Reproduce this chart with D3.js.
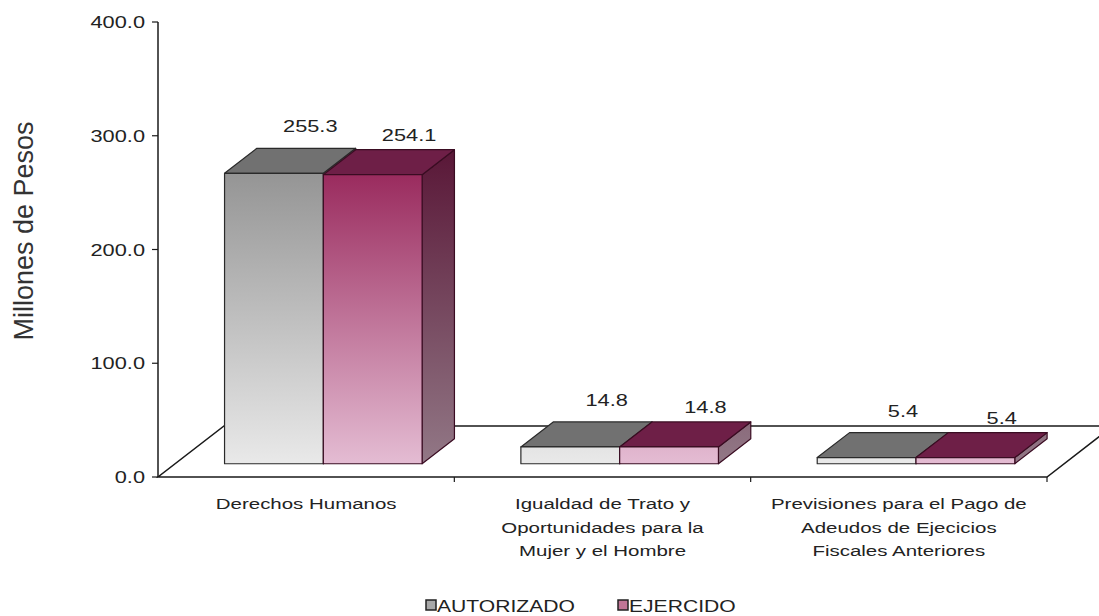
<!DOCTYPE html>
<html>
<head>
<meta charset="utf-8">
<script src="https://cdn.jsdelivr.net/npm/d3@7"></script>
<style>
body { margin: 0; background: #fff; }
text { font-family: Arial, "Liberation Sans", sans-serif; fill: #222; }
</style>
</head>
<body>
<svg id="chart" width="1099" height="616"></svg>
<script>
// data
var categories = [
    ["Derechos Humanos"],
    ["Igualdad de Trato y", "Oportunidades para la", "Mujer y el Hombre"],
    ["Previsiones para el Pago de", "Adeudos de Ejecicios", "Fiscales Anteriores"]
];
var seriesNames = ["AUTORIZADO", "EJERCIDO"];
var autorizado = [255.3, 14.8, 5.4];
var ejercido = [254.1, 14.8, 5.4];
var yTicks = [0, 100, 200, 300, 400];

var svg = d3.select("#chart");
var stretch = 1.32;

var xScale = d3.scaleBand()
    .domain(d3.range(categories.length))
    .range([158, 1047]);

var sub = d3.scaleBand()
    .domain(seriesNames)
    .range([0, xScale.bandwidth()])
    .paddingInner(0)
    .paddingOuter(0.5);

var yScale = d3.scaleLinear()
    .domain([0, 400])
    .range([477, 22]);

// depth of the floor (oblique projection)
var depth = {dx: 66, dy: -51};
var zFront = 0.26, zBack = 0.75;

var proj = function(x, v, z){
    return [x + z * depth.dx, yScale(v) + z * depth.dy];
}
var poly = function(pts){
    return pts.map(function(p){ return p.join(","); }).join(" ");
}

// gradients
var defs = svg.append("defs");
var addGrad = function(id, y1, y2, c1, c2){
    var g = defs.append("linearGradient")
        .attr("id", id)
        .attr("gradientUnits", "userSpaceOnUse")
        .attr("x1", 0).attr("x2", 0)
        .attr("y1", y1).attr("y2", y2);
    g.append("stop").attr("offset", 0).attr("stop-color", c1);
    g.append("stop").attr("offset", 1).attr("stop-color", c2);
}
var gy0 = yScale(0) + zFront * depth.dy;
var gy1 = yScale(255) + zFront * depth.dy;
addGrad("gFront0", gy0, gy1, "#e9e9e9", "#959595");
addGrad("gFront1", gy0, gy1, "#e4bcd3", "#9a2b5e");
addGrad("gSide1", gy0, gy1 - 20, "#927886", "#5a1838");

var styles = [
    {front: "url(#gFront0)", top: "#717171", side: "#7a7a7a", stroke: "#2a2a2a", key: "#a8a8a8"},
    {front: "url(#gFront1)", top: "#6e1f47", side: "url(#gSide1)", stroke: "#3a0c22", key: "#c07596"}
];

// floor
var floorPts = [
    proj(158, 0, 0), proj(1047, 0, 0), proj(1047, 0, 1), proj(158, 0, 1)
];
svg.append("polygon")
    .attr("points", poly(floorPts))
    .attr("fill", "#fff")
    .attr("stroke", "#1a1a1a")
    .attr("stroke-width", 1.5);

// y axis
svg.append("line")
    .attr("x1", 158).attr("x2", 158)
    .attr("y1", yScale(400)).attr("y2", yScale(0))
    .attr("stroke", "#1a1a1a").attr("stroke-width", 1.5);

svg.selectAll(".ytick")
    .data(yTicks)
    .enter()
    .append("line")
    .attr("x1", 152).attr("x2", 158)
    .attr("y1", function(d){ return yScale(d); })
    .attr("y2", function(d){ return yScale(d); })
    .attr("stroke", "#1a1a1a").attr("stroke-width", 1.2);

svg.selectAll(".ylab")
    .data(yTicks)
    .enter()
    .append("text")
    .attr("transform", function(d){
        return "translate(145," + (yScale(d) + 6) + ") scale(" + stretch + ",1)";
    })
    .attr("text-anchor", "end")
    .attr("font-size", 16.5)
    .text(function(d){ return d3.format(".1f")(d); });

svg.append("text")
    .attr("transform", "translate(33,231) rotate(-90)")
    .attr("text-anchor", "middle")
    .attr("font-size", 27)
    .style("fill", "#333")
    .text("Millones de Pesos");

// x ticks at band boundaries
var bounds = xScale.domain().slice(1).map(function(i){ return xScale(i); }).concat([1047]);
svg.selectAll(".xtick")
    .data(bounds)
    .enter()
    .append("line")
    .attr("x1", function(d){ return d; })
    .attr("x2", function(d){ return d; })
    .attr("y1", yScale(0)).attr("y2", yScale(0) + 5)
    .attr("stroke", "#1a1a1a").attr("stroke-width", 1.2);

// bars
var values = [autorizado, ejercido];
var bars = [];
categories.forEach(function(c, i){
    seriesNames.forEach(function(s, j){
        bars.push({cat: i, series: j, value: values[j][i]});
    });
});

var barG = svg.selectAll(".bar")
    .data(bars)
    .enter()
    .append("g")
    .attr("class", "bar");

var corners = function(d){
    var x0 = xScale(d.cat) + sub(seriesNames[d.series]);
    var x1 = x0 + sub.bandwidth();
    return {x0: x0, x1: x1};
}

barG.append("polygon")
    .attr("points", function(d){
        var c = corners(d);
        return poly([proj(c.x1, 0, zFront), proj(c.x1, 0, zBack), proj(c.x1, d.value, zBack), proj(c.x1, d.value, zFront)]);
    })
    .attr("fill", function(d){ return styles[d.series].side; })
    .attr("stroke", function(d){ return styles[d.series].stroke; })
    .attr("stroke-width", 1.2)
    .attr("stroke-linejoin", "round");

barG.append("polygon")
    .attr("points", function(d){
        var c = corners(d);
        return poly([proj(c.x0, d.value, zFront), proj(c.x1, d.value, zFront), proj(c.x1, d.value, zBack), proj(c.x0, d.value, zBack)]);
    })
    .attr("fill", function(d){ return styles[d.series].top; })
    .attr("stroke", function(d){ return styles[d.series].stroke; })
    .attr("stroke-width", 1.2)
    .attr("stroke-linejoin", "round");

barG.append("polygon")
    .attr("points", function(d){
        var c = corners(d);
        return poly([proj(c.x0, 0, zFront), proj(c.x1, 0, zFront), proj(c.x1, d.value, zFront), proj(c.x0, d.value, zFront)]);
    })
    .attr("fill", function(d){ return styles[d.series].front; })
    .attr("stroke", function(d){ return styles[d.series].stroke; })
    .attr("stroke-width", 1.2)
    .attr("stroke-linejoin", "round");

// value labels
var labelLift = [22, 15];
svg.selectAll(".vlab")
    .data(bars)
    .enter()
    .append("text")
    .attr("transform", function(d){
        var c = corners(d);
        var p = proj((c.x0 + c.x1) / 2, d.value, zBack);
        return "translate(" + (p[0] + 4) + "," + (p[1] - labelLift[d.series] + 6) + ") scale(" + stretch + ",1)";
    })
    .attr("text-anchor", "middle")
    .attr("font-size", 16.5)
    .text(function(d){ return d3.format(".1f")(d.value); });

// category labels
var catG = svg.selectAll(".cat")
    .data(categories)
    .enter()
    .append("g")
    .attr("transform", function(d, i){
        return "translate(" + (xScale(i) + xScale.bandwidth() / 2) + ",509)";
    });

catG.selectAll("text")
    .data(function(d){ return d; })
    .enter()
    .append("text")
    .attr("transform", function(d, k){
        return "translate(0," + (k * 23.5) + ") scale(" + stretch + ",1)";
    })
    .attr("text-anchor", "middle")
    .attr("font-size", 15.5)
    .text(function(d){ return d; });

// legend
var legendX = [426, 618];
var legG = svg.selectAll(".leg")
    .data(seriesNames)
    .enter()
    .append("g")
    .attr("transform", function(d, i){ return "translate(" + legendX[i] + ",600)"; });

legG.append("rect")
    .attr("width", 10).attr("height", 10)
    .attr("fill", function(d, i){ return styles[i].key; })
    .attr("stroke", "#222")
    .attr("stroke-width", 1.5);

legG.append("text")
    .attr("transform", "translate(11,12) scale(" + stretch + ",1)")
    .attr("font-size", 16)
    .text(function(d){ return d; });
</script>
</body>
</html>
